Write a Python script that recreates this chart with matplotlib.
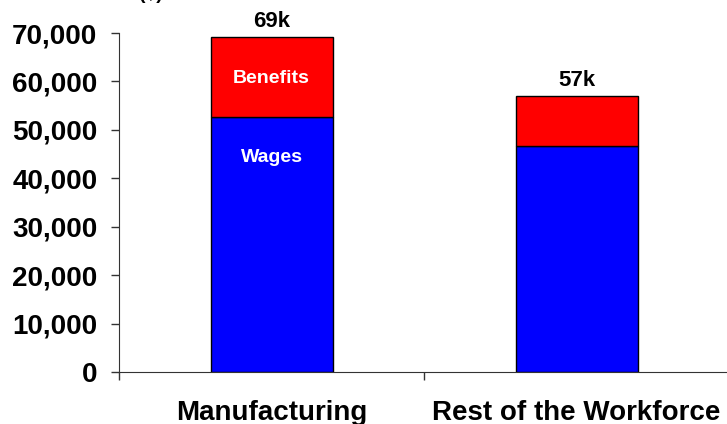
import numpy as np
import matplotlib.pyplot as plt
from matplotlib.ticker import FuncFormatter, FixedLocator

plt.rcParams["font.family"] = ["Liberation Sans", "DejaVu Sans"]
plt.rcParams["font.weight"] = "bold"

categories = ["Manufacturing", "Rest of the Workforce"]
wages = [52650, 46650]
benefits = [16550, 10350]
totals_labels = ["69k", "57k"]

fig = plt.figure(figsize=(7.27, 4.24), dpi=100)
ax = fig.add_axes([119 / 727, 52 / 424, 610 / 727, 339 / 424])

x = np.arange(len(categories))
ax.bar(x, wages, width=0.4, color="#0000ff", edgecolor="black", linewidth=1)
ax.bar(x, benefits, width=0.4, bottom=wages, color="#ff0000",
       edgecolor="black", linewidth=1)

# totals above each bar
for xi, w, b, lab in zip(x, wages, benefits, totals_labels):
    ax.text(xi, w + b + 1000, lab, ha="center", va="bottom",
            fontsize=16, fontweight="bold")

# segment labels on the first bar
ax.text(0, 60700, "Benefits", ha="center", va="center", color="white",
        fontsize=14, fontweight="bold")
ax.text(0, 44200, "Wages", ha="center", va="center", color="white",
        fontsize=14, fontweight="bold")

ax.set_xlim(-0.5, 1.5)
ax.set_ylim(0, 70000)
ax.set_yticks(np.arange(0, 70001, 10000))
ax.yaxis.set_major_formatter(FuncFormatter(lambda v, p: f"{int(v):,}"))
ax.tick_params(axis="y", labelsize=20, length=6, width=1, color="#333333", pad=9.5)

ax.set_xticks(x)
ax.set_xticklabels(categories, fontsize=20, fontweight="bold")
ax.xaxis.set_minor_locator(FixedLocator([-0.5, 0.5, 1.5]))
ax.tick_params(axis="x", which="major", length=0, pad=20)
ax.tick_params(axis="x", which="minor", length=6, width=1, color="#333333")

for s in ["top", "right"]:
    ax.spines[s].set_visible(False)
for s in ["left", "bottom"]:
    ax.spines[s].set_color("#333333")

# axis title sits mostly above the visible area, as in the original
fig.text(151 / 727, 1.012, "($)", ha="center", va="center", fontsize=14)

fig.savefig("out.png", dpi=100)
